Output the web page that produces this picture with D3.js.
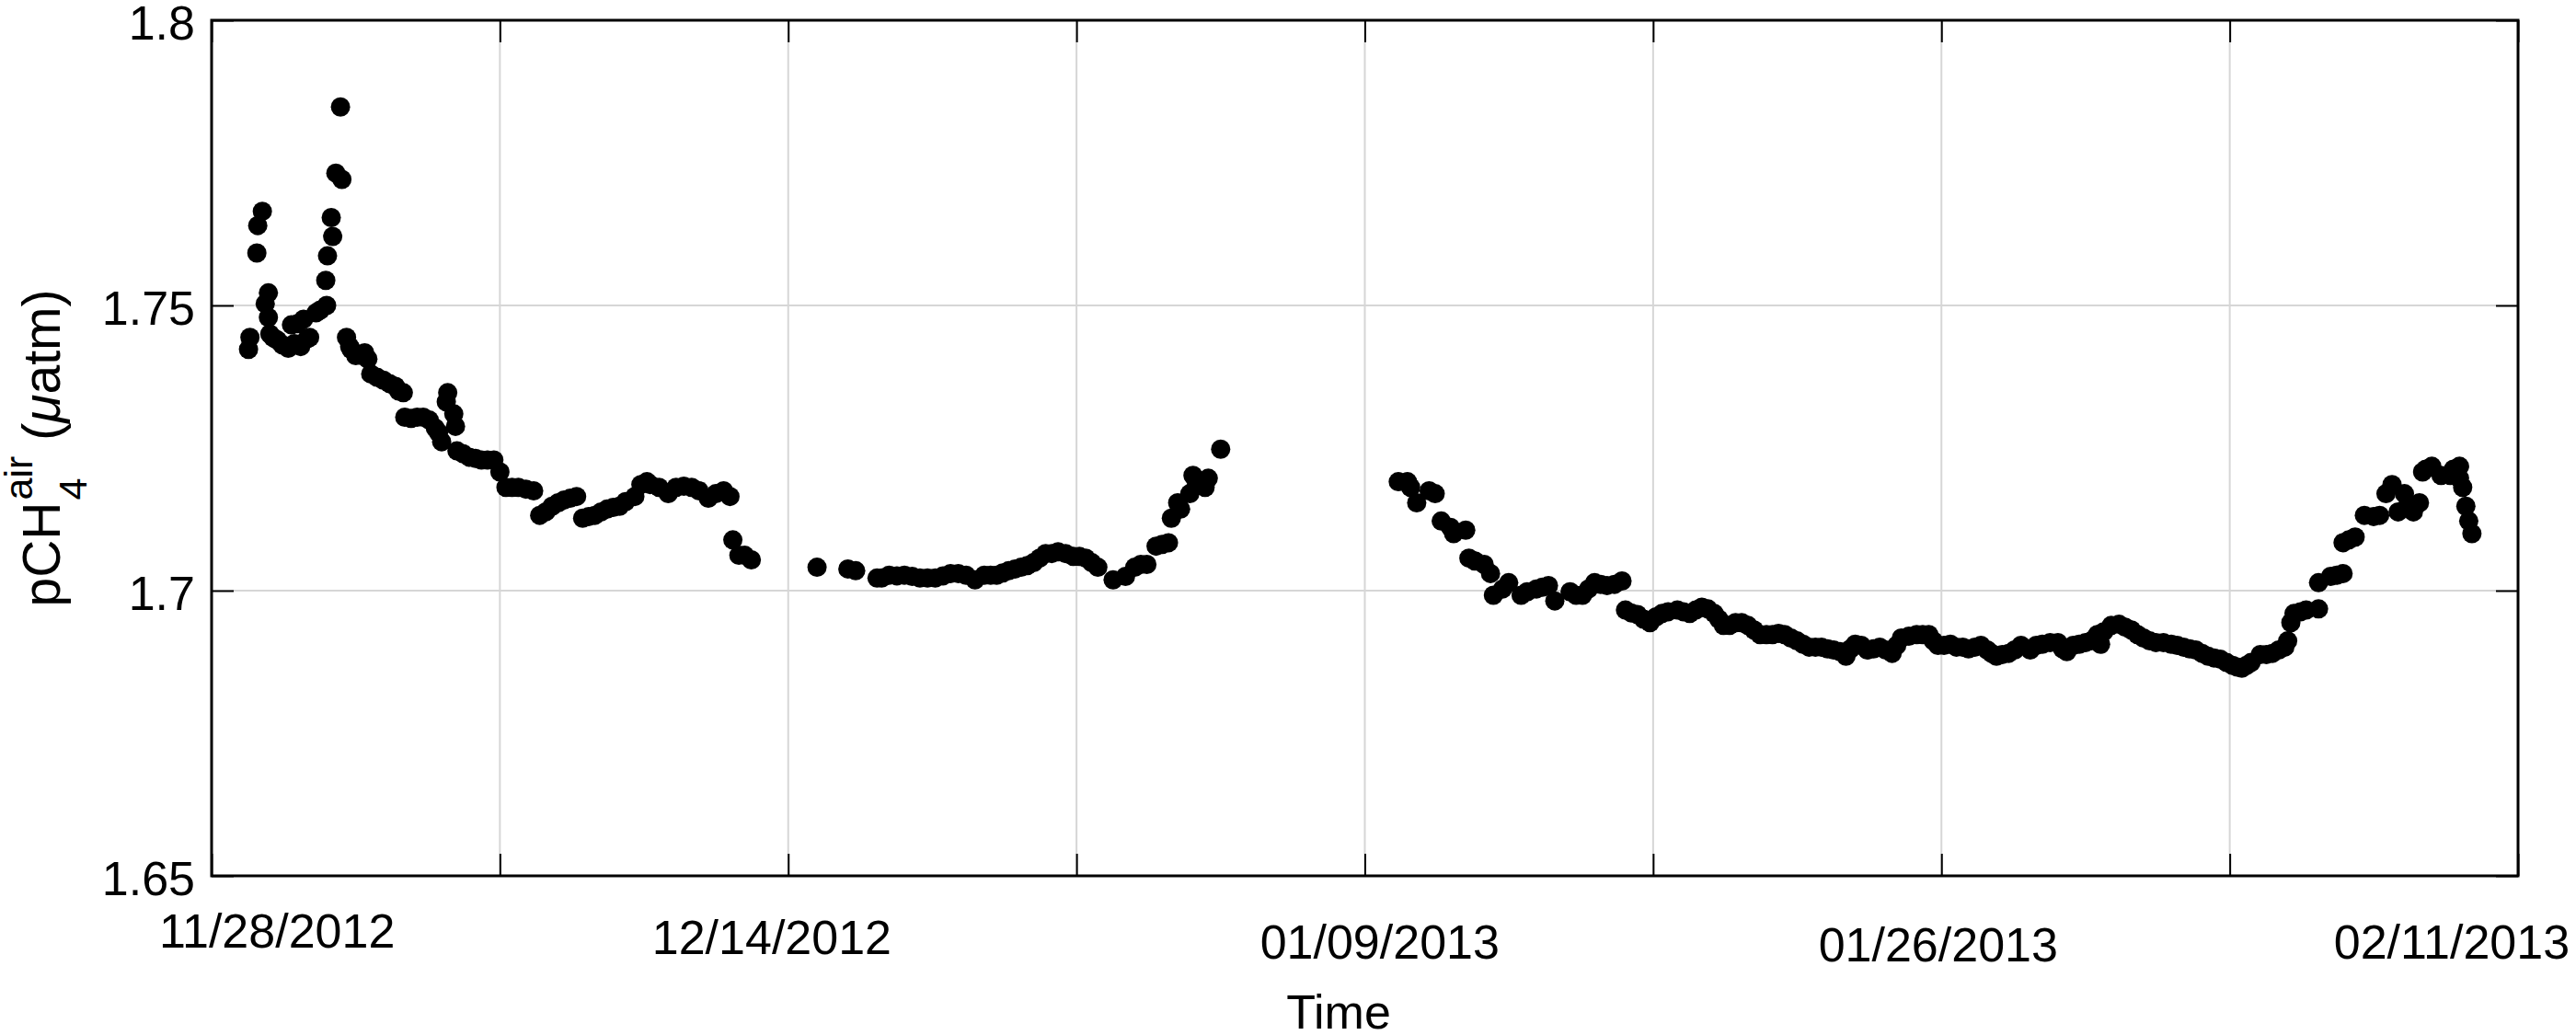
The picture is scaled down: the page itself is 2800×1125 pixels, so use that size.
<!DOCTYPE html>
<html><head><meta charset="utf-8">
<script src="https://cdn.jsdelivr.net/npm/d3@7"></script>
<style>
body{margin:0;background:#fff}
svg{display:block}
text{font-family:"Liberation Sans",Arial,Helvetica,sans-serif;fill:#000}
</style>
</head><body>
<svg id="chart" width="2800" height="1125"></svg>
<script>
// ---- data (x = sample position along the record, y = pCH4 air in uatm) ----
const seg1Index = [12.8,13.3,15.7,16.0,17.6,18.6,19.7,19.7,20.2,21.3,24.5,26.6,27.7,28.7,30.9,31.9,33.0,36.2,39.6,39.9,40.2,41.5,42.0,43.1,44.7,45.2,46.8,47.9,50.0,53.1,54.2,55.2,59.6,63.8,66.5,67.0,71.3,75.5,78.7,79.8,81.4,81.9,84.0,84.6,85.1,89.4,93.6,97.9,100.0,102.1,106.4,111.7,113.8,118.1,122.3,126.6,128.7,132.9,137.2,141.5,146.8,148.9,152.1,158.4,163.8,169.1,172.3,177.6,179.8,180.8,182.9,184.9,187.2,
  48.4,52.1,57.4,61.7,64.9,69.2,73.4,77.6,87.2,91.5,95.7,104.2,109.0,115.9,120.2,124.4,130.8,135.1,139.3,143.6,151.0,155.2,161.1,166.5,174.9,22.9,29.8,34.0,29.8,37.7];
const seg1Value = [1.7423,1.7444,1.7592,1.7640,1.7665,1.7503,1.7522,1.7479,1.7450,1.7444,1.7431,1.7425,1.7466,1.7433,1.7428,1.7476,1.7441,1.7487,1.7544,1.7500,1.7587,1.7654,1.7621,1.7732,1.7848,1.7721,1.7444,1.7428,1.7412,1.7417,1.7406,1.7380,1.7369,1.7358,1.7347,1.7304,1.7304,1.7299,1.7277,1.7261,1.7331,1.7347,1.7310,1.7288,1.7245,1.7234,1.7229,1.7229,1.7208,1.7181,1.7181,1.7175,1.7132,1.7148,1.7159,1.7165,1.7127,1.7132,1.7143,1.7148,1.7165,1.7186,1.7186,1.7170,1.7183,1.7175,1.7162,1.7175,1.7165,1.7089,1.7062,1.7062,1.7054,
  1.7423,1.7412,1.7374,1.7363,1.7350,1.7302,1.7304,1.7285,1.7240,1.7232,1.7229,1.7181,1.7178,1.7138,1.7154,1.7162,1.7130,1.7138,1.7146,1.7156,1.7191,1.7181,1.7181,1.7181,1.7170,1.7439,1.7431,1.7444,1.7468,1.7492];

const seg2Index = [210.0,220.7,223.4,230.8,235.0,240.3,245.7,251.0,256.3,261.7,264.8,268.0,272.3,276.5,280.8,285.1,289.3,293.6,298.9,303.2,307.4,312.7,317.0,320.2,324.4,327.6,331.9,332.9,335.1,339.3,340.4,345.7,350.0,
  232.4,237.7,243.0,248.3,253.7,259.0,270.2,274.4,278.7,282.9,287.2,291.4,296.2,301.0,305.3,322.3,329.7,336.1,341.6,344.6];
const seg2Value = [1.7041,1.7038,1.7035,1.7022,1.7027,1.7027,1.7022,1.7022,1.7030,1.7027,1.7019,1.7027,1.7027,1.7035,1.7041,1.7049,1.7065,1.7068,1.7060,1.7057,1.7041,1.7019,1.7025,1.7041,1.7046,1.7078,1.7084,1.7127,1.7154,1.7170,1.7202,1.7197,1.7248,
  1.7022,1.7026,1.7025,1.7022,1.7026,1.7030,1.7027,1.7031,1.7038,1.7044,1.7057,1.7065,1.7065,1.7060,1.7049,1.7046,1.7081,1.7143,1.7186,1.7181];

const seg3Index = [411.6,415.9,418.0,422.3,424.4,426.5,430.8,435.0,436.1,441.4,443.6,444.6,449.9,454.2,459.5,463.7,465.9,471.2,475.5,479.7,484.0,489.2,
  414.8,429.7,438.2,447.8,456.3,461.6,473.3,477.6,481.8,486.6];
const seg3Value = [1.7191,1.7181,1.7154,1.7175,1.7170,1.7122,1.7100,1.7106,1.7057,1.7046,1.7030,1.6992,1.7014,1.6992,1.7003,1.7009,1.6982,1.6998,1.6992,1.7014,1.7009,1.7017,
  1.7191,1.7111,1.7052,1.7003,1.6998,1.7006,1.6992,1.7003,1.7011,1.7011];

const seg4Index = [490.4,494.6,498.9,503.1,508.4,512.7,516.9,521.2,524.4,528.6,532.9,537.1,541.4,545.6,549.9,554.1,558.4,562.6,566.9,570.1,574.3,578.6,582.9,586.1,591.4,595.6,598.8,603.1,607.4,611.6,615.9,619.1,623.3,627.6,630.8,635.0,640.4,643.5,647.8,652.0,655.2,656.3,661.6,665.9,670.1,674.4,679.7,684.0,688.2,692.5,696.7,701.0,704.2,707.4,710.6,714.8,719.1,720.1,721.2,722.3,726.5,730.8,730.8,735.0,739.3,739.3,743.5,746.7,752.0,754.2,756.3,758.4,760.6,763.7,765.8,766.9,770.1,773.3,776.5,779.7,780.8,781.9,782.9,784.0,
  492.4,496.7,501.0,505.2,510.5,514.8,519.0,522.8,526.5,530.7,535.0,539.3,543.5,547.8,552.0,556.3,560.5,564.8,568.5,572.2,576.5,580.7,584.5,588.7,593.5,597.2,600.9,605.2,609.4,613.7,617.4,621.1,625.4,
  632.9,637.7,642.0,645.7,650.0,654.1,658.9,663.7,668.0,672.2,677.0,681.8,686.1,690.4,694.6,698.9,702.6,705.8,712.7,717.0,
  724.6,737.1,741.3,749.9,761.6,768.0,777.6,779.7];
const seg4Value = [1.6966,1.6958,1.6944,1.6960,1.6966,1.6960,1.6971,1.6960,1.6939,1.6944,1.6939,1.6923,1.6923,1.6923,1.6912,1.6901,1.6901,1.6896,1.6885,1.6906,1.6896,1.6901,1.6890,1.6917,1.6923,1.6923,1.6904,1.6906,1.6901,1.6901,1.6896,1.6885,1.6890,1.6904,1.6896,1.6906,1.6909,1.6893,1.6906,1.6912,1.6906,1.6928,1.6941,1.6931,1.6917,1.6909,1.6906,1.6901,1.6896,1.6885,1.6880,1.6869,1.6864,1.6874,1.6888,1.6890,1.6901,1.6912,1.6944,1.6960,1.6966,1.6968,1.7014,1.7025,1.7030,1.7084,1.7094,1.7132,1.7132,1.7170,1.7186,1.7138,1.7170,1.7138,1.7154,1.7208,1.7218,1.7202,1.7202,1.7218,1.7181,1.7148,1.7122,1.7100,
  1.6961,1.6950,1.6954,1.6963,1.6963,1.6966,1.6968,1.6950,1.6939,1.6944,1.6931,1.6923,1.6925,1.6917,1.6906,1.6901,1.6898,1.6893,1.6898,1.6904,1.6898,1.6896,1.6904,1.6920,1.6923,1.6912,1.6904,1.6901,1.6898,1.6904,1.6890,1.6888,1.6896,
  1.6904,1.6909,1.6898,1.6904,1.6909,1.6923,1.6939,1.6936,1.6923,1.6912,1.6909,1.6904,1.6898,1.6890,1.6882,1.6874,1.6866,1.6869,1.6888,1.6896,
  1.6963,1.7027,1.7089,1.7130,1.7148,1.7213,1.7213,1.7197];

const yTickValues = [1.65, 1.7, 1.75, 1.8];
const yTickLabels = ["1.65", "1.7", "1.75", "1.8"];
const xTickValues = [0, 100, 200, 300, 400, 500, 600, 700, 800];
const xDateLabels = ["11/28/2012", "12/14/2012", "01/09/2013", "01/26/2013", "02/11/2013"];
const xDateAt = [22.7, 194.3, 405.2, 598.9, 777.0];
const xTitle = "Time";

// ---- layout ----
const L = 230, R = 2737, T = 22, B = 952;
const dateLabelBaseline = [1030, 1037, 1042, 1045, 1042];
const svg = d3.select("#chart");
svg.append("rect").attr("width", 2800).attr("height", 1125).attr("fill", "#fff");

const x = d3.scaleLinear().domain([0, 800]).range([L, R]);
const y = d3.scaleLinear().domain([1.65, 1.8]).range([B, T]);

// grid
const grid = svg.append("g");
grid.selectAll("line.gx").data(xTickValues.slice(1, -1)).join("line")
  .attr("x1", d => x(d)).attr("x2", d => x(d)).attr("y1", T).attr("y2", B)
  .attr("stroke", "#d6d6d6").attr("stroke-width", 2);
grid.selectAll("line.gy").data(yTickValues.slice(1, -1)).join("line")
  .attr("y1", d => y(d)).attr("y2", d => y(d)).attr("x1", L).attr("x2", R)
  .attr("stroke", "#d6d6d6").attr("stroke-width", 2);

// points
const segments = [[seg1Index, seg1Value], [seg2Index, seg2Value], [seg3Index, seg3Value], [seg4Index, seg4Value]];
const pts = [];
segments.forEach(([xi, vi]) => xi.forEach((d, i) => pts.push([d, vi[i]])));
svg.append("g").selectAll("circle").data(pts).join("circle")
  .attr("cx", d => x(d[0])).attr("cy", d => y(d[1])).attr("r", 10.5).attr("fill", "#000");

// axes (inward ticks on all sides)
function styleAxis(g) {
  g.select(".domain").remove();
  g.selectAll(".tick line").attr("stroke", "#000").attr("stroke-width", 2);
}
svg.append("g").attr("transform", `translate(0,${B})`)
  .call(d3.axisBottom(x).tickValues(xTickValues).tickSizeInner(-24).tickSizeOuter(0).tickFormat(""))
  .call(styleAxis).selectAll("text").remove();
svg.append("g").attr("transform", `translate(0,${T})`)
  .call(d3.axisTop(x).tickValues(xTickValues).tickSizeInner(-24).tickSizeOuter(0).tickFormat(""))
  .call(styleAxis).selectAll("text").remove();
svg.append("g").attr("transform", `translate(${R},0)`)
  .call(d3.axisRight(y).tickValues(yTickValues).tickSizeInner(-24).tickSizeOuter(0).tickFormat(""))
  .call(styleAxis).selectAll("text").remove();
const yAx = svg.append("g").attr("transform", `translate(${L},0)`)
  .call(d3.axisLeft(y).tickValues(yTickValues).tickSizeInner(-24).tickSizeOuter(0).tickPadding(18)
    .tickFormat((d, i) => yTickLabels[i]))
  .call(styleAxis);
yAx.selectAll("text").attr("font-size", 52).attr("dy", "0.4em")
  .attr("font-family", "'Liberation Sans',Arial,Helvetica,sans-serif").attr("fill", "#000");

// box
svg.append("rect").attr("x", L).attr("y", T).attr("width", R - L).attr("height", B - T)
  .attr("fill", "none").attr("stroke", "#000").attr("stroke-width", 3);

// date labels
svg.append("g").selectAll("text").data(xDateLabels).join("text")
  .attr("x", (d, i) => x(xDateAt[i])).attr("y", (d, i) => dateLabelBaseline[i])
  .attr("text-anchor", "middle").attr("font-size", 52).text(d => d);

// x title
svg.append("text").attr("x", 1455).attr("y", 1118).attr("text-anchor", "middle")
  .attr("font-size", 52).text(xTitle);

// y title: pCH_4^{air} (\muatm)
const yl = svg.append("g");
const t1 = yl.append("text").attr("font-size", 57).attr("x", 0).attr("y", 0).text("pCH");
const w1 = t1.node().getComputedTextLength();
const tSub = yl.append("text").attr("font-size", 43).attr("x", w1 + 2).attr("y", 29).text("4");
const tSup = yl.append("text").attr("font-size", 43).attr("x", w1 + 2).attr("y", -30).text("air");
const w2 = Math.max(tSub.node().getComputedTextLength(), tSup.node().getComputedTextLength());
const x3 = w1 + 2 + w2 + 17;
const t3 = yl.append("text").attr("font-size", 57).attr("x", x3).attr("y", 0);
t3.append("tspan").text("(");
t3.append("tspan").attr("font-style", "italic").text("\u03bc");
t3.append("tspan").text("atm)");
const total = x3 + t3.node().getComputedTextLength();
yl.attr("transform", `translate(65,${(T + B) / 2 + total / 2}) rotate(-90)`);
</script>
</body></html>
